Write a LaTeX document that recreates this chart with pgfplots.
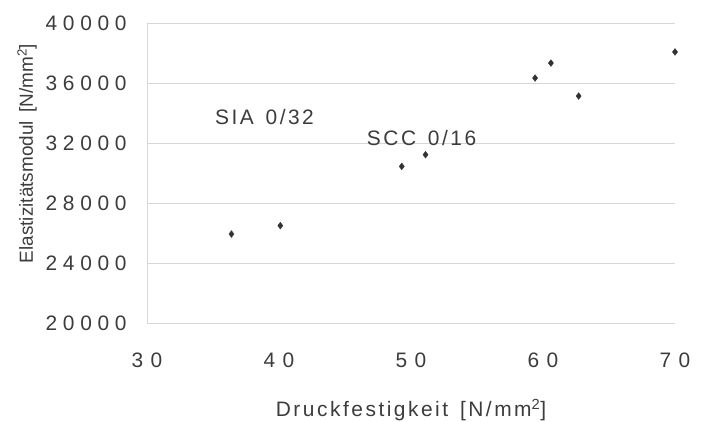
\documentclass[border=0pt]{standalone}
\usepackage{fontspec}
\setmainfont{Liberation Sans}
\newfontfamily\ytickfont[LetterSpace=27]{Liberation Sans}
\newfontfamily\xtickfont[LetterSpace=35]{Liberation Sans}
\newfontfamily\labfont[LetterSpace=12]{Liberation Sans}
\newfontfamily\ylabfont[LetterSpace=0]{Liberation Sans}
\usepackage{pgfplots}
\pgfplotsset{compat=1.18}
\definecolor{txt}{HTML}{3C3C3C}
\definecolor{gridc}{HTML}{D6D6D6}

\begin{document}
\begin{tikzpicture}
\begin{axis}[
    scale only axis,
    width=528bp, height=300bp,
    xmin=30, xmax=70,
    ymin=20000, ymax=40000,
    xtick={30,40,...,70},
    ytick={20000,24000,...,40000},
    scaled ticks=false,
    axis x line*=bottom,
    axis y line*=left,
    axis line style={gridc, line width=0.6pt},
    major tick length=0pt,
    ymajorgrids,
    grid style={gridc, line width=0.6pt},
    /pgf/number format/assume math mode=true,
    /pgf/number format/set thousands separator={},
    yticklabel style={font=\ytickfont\fontsize{21}{25}\selectfont, text=txt, anchor=east, xshift=-17bp},
    xticklabel style={font=\xtickfont\fontsize{21}{25}\selectfont, text=txt, anchor=base, yshift=-44bp},
    xlabel={Druckfestigkeit\, [N/mm\textsuperscript{2}]},
    ylabel={Elastizitätsmodul\, [N/mm\textsuperscript{2}]},
    every axis x label/.style={at={(axis description cs:0.5,-0.313)}, anchor=base,
        font=\labfont\fontsize{21}{25}\selectfont, text=txt},
    every axis y label/.style={at={(axis description cs:-0.216,0.565)}, rotate=90, anchor=base,
        font=\ylabfont\fontsize{19}{23}\selectfont, text=txt},
    clip=false,
]
\addplot[only marks, mark=diamond*, mark size=3.4pt, color=black!80] coordinates {
    (36.4, 25930) (40.1, 26490) (49.3, 30440) (51.1, 31220)
    (59.4, 36330) (60.6, 37330) (62.7, 35130) (70.0, 38070)
};
\node[font=\labfont\fontsize{21}{25}\selectfont, text=txt] at (axis cs:38.9, 33730) {SIA\, 0/32};
\node[font=\labfont\fontsize{21}{25}\selectfont, text=txt] at (axis cs:50.8, 32330) {SCC\, 0/16};
\end{axis}
\pgfresetboundingbox
\path[use as bounding box] ([shift={(-147bp,-98bp)}]current axis.south west) rectangle ([shift={(30bp,23bp)}]current axis.north east);
\end{tikzpicture}
\end{document}
